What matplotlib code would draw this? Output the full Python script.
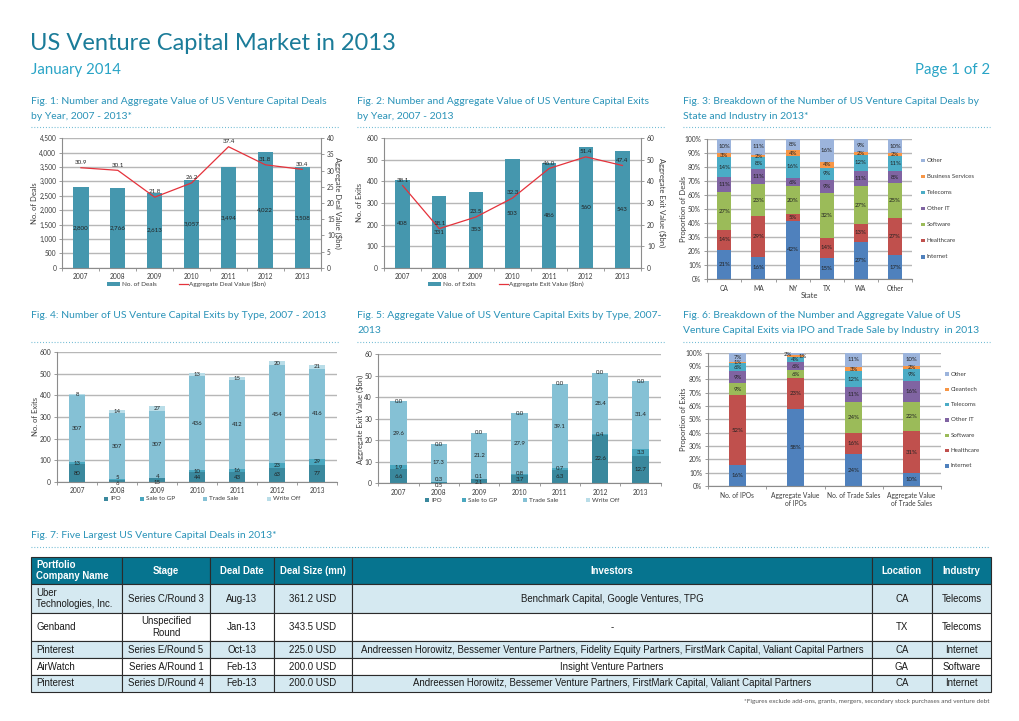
import numpy as np
import matplotlib
matplotlib.use("Agg")
import matplotlib.pyplot as plt
from matplotlib.patches import Rectangle
from matplotlib.ticker import FuncFormatter

# ---- data ---------------------------------------------------------------
years = ["2007", "2008", "2009", "2010", "2011", "2012", "2013"]

deal_count = [2800, 2766, 2613, 3057, 3494, 4022, 3508]
deal_value = [30.9, 30.1, 21.8, 26.2, 37.4, 31.8, 30.4]

exit_count = [408, 331, 353, 503, 486, 560, 543]
exit_value = [38.1, 18.1, 23.5, 32.3, 46.0, 51.4, 47.4]

industries = ["Internet", "Healthcare", "Software", "Other IT", "Telecoms",
              "Business Services", "Other"]
states = ["CA", "MA", "NY", "TX", "WA", "Other"]
state_internet = [21, 16, 42, 15, 27, 17]
state_healthcare = [14, 29, 5, 14, 13, 27]
state_software = [27, 23, 20, 32, 27, 25]
state_other_it = [11, 11, 6, 9, 11, 8]
state_telecoms = [14, 8, 16, 9, 12, 11]
state_business = [3, 2, 4, 4, 2, 2]
state_other = [10, 11, 8, 16, 9, 10]

exit_types = ["IPO", "Sale to GP", "Trade Sale", "Write Off"]
exits_ipo = [80, 6, 15, 44, 43, 63, 77]
exits_gp = [13, 5, 4, 10, 16, 23, 29]
exits_trade = [307, 307, 307, 436, 412, 454, 416]
exits_writeoff = [8, 14, 27, 13, 15, 20, 21]

value_ipo = [6.6, 0.5, 2.1, 3.7, 6.3, 22.6, 12.7]
value_gp = [1.9, 0.3, 0.1, 0.8, 0.7, 0.4, 3.3]
value_trade = [29.6, 17.3, 21.2, 27.9, 39.1, 28.4, 31.4]
value_writeoff = [0.0, 0.0, 0.0, 0.0, 0.0, 0.0, 0.0]

exit_industries = ["Internet", "Healthcare", "Software", "Other IT", "Telecoms",
                   "Cleantech", "Other"]
exit_groups = ["No. of IPOs", "Aggregate Value\nof IPOs", "No. of Trade Sales",
               "Aggregate Value\nof Trade Sales"]
grp_internet = [16, 58, 24, 10]
grp_healthcare = [52, 23, 16, 31]
grp_software = [9, 6, 24, 22]
grp_other_it = [9, 6, 11, 16]
grp_telecoms = [6, 4, 12, 9]
grp_cleantech = [1, 1, 3, 2]
grp_other = [7, 2, 11, 10]

table_header = ["Portfolio\nCompany Name", "Stage", "Deal Date", "Deal Size (mn)",
                "Investors", "Location", "Industry"]
company = ["Uber\nTechnologies, Inc.", "Genband", "Pinterest", "AirWatch", "Pinterest"]
stage = ["Series C/Round 3", "Unspecified\nRound", "Series E/Round 5",
         "Series A/Round 1", "Series D/Round 4"]
deal_date = ["Aug-13", "Jan-13", "Oct-13", "Feb-13", "Feb-13"]
deal_size = [361.2, 343.5, 225.0, 200.0, 200.0]
investors = [
    "Benchmark Capital, Google Ventures, TPG",
    "-",
    "Andreessen Horowitz, Bessemer Venture Partners, Fidelity Equity Partners, "
    "FirstMark Capital, Valiant Capital Partners",
    "Insight Venture Partners",
    "Andreessen Horowitz, Bessemer Venture Partners, FirstMark Capital, "
    "Valiant Capital Partners",
]
location = ["CA", "TX", "CA", "GA", "CA"]
industry = ["Telecoms", "Telecoms", "Internet", "Software", "Internet"]

# ---- style --------------------------------------------------------------
W, H = 1020, 721
FONT = "Lato"
TXT = "#3c3c3c"
AXIS = "#8c8c8c"
GRID = "#b7b7b7"
TITLE = "#1b7c99"
CYAN = "#29a4c6"
CAPTION = "#2a93b8"
DOTS = "#5fb3cf"
BAR = "#4597ae"
RED = "#e5323b"
IND_COLORS = ["#4f81bd", "#c0504d", "#9bbb59", "#8064a2", "#4bacc6", "#f79646", "#9cb4dc"]
EXIT_COLORS = ["#3a889d", "#4aa7bf", "#85c1d5", "#b9dde8"]

plt.rcParams["font.family"] = [FONT, "DejaVu Sans"]

fig = plt.figure(figsize=(W / 100, H / 100), dpi=100)
page = fig.add_axes([0, 0, 1, 1])
page.set_xlim(0, W)
page.set_ylim(H, 0)
page.axis("off")


def chart(l, t, r, b):
    ax = fig.add_axes([l / W, 1 - b / H, (r - l) / W, (b - t) / H])
    ax.grid(axis="y", color=GRID, lw=1.0)
    ax.set_axisbelow(True)
    for s in ("top", "right"):
        ax.spines[s].set_visible(False)
    for s in ("left", "bottom"):
        ax.spines[s].set_color(AXIS)
        ax.spines[s].set_linewidth(0.8)
    ax.tick_params(axis="y", labelsize=4.8, colors=TXT, color=AXIS, length=2.5,
                   width=0.6, pad=2)
    ax.tick_params(axis="x", which="major", labelsize=4.8, colors=TXT, length=0, pad=4)
    ax.tick_params(axis="x", which="minor", length=2.5, color=AXIS, width=0.6)
    return ax


def categories(ax, labels):
    n = len(labels)
    ax.set_xlim(-0.5, n - 0.5)
    ax.set_xticks(range(n))
    ax.set_xticklabels(labels, va="top")
    ax.set_xticks(np.arange(n + 1) - 0.5, minor=True)


def stacked(ax, series, colors, width, fmt, normalise=False, min_px=6, side=False):
    # ylim must already be set: crowded labels are spread by min_px pixels
    lo, hi = ax.get_ylim()
    gap = min_px * (hi - lo) / (ax.get_position().height * H)
    data = np.array(series, dtype=float)
    heights = data / data.sum(axis=0) * 100 if normalise else data
    x = np.arange(data.shape[1])
    bottom = np.zeros(len(x))
    prev_txt = [None] * len(x)
    prev_y = [-1e9] * len(x)
    for vals, h, col in zip(data, heights, colors):
        ax.bar(x, h, width, bottom=bottom, color=col, zorder=2)
        for j, (v, hj, b0) in enumerate(zip(vals, h, bottom)):
            y = b0 + hj / 2
            xj = x[j]
            short = gap - (y - prev_y[j])
            if short > 0:
                if side:
                    prev_txt[j].set_x(xj + 0.13)
                    xj = xj - 0.13
                else:
                    prev_txt[j].set_y(prev_y[j] - short / 2)
                    y = y + short / 2
            t = ax.text(xj, y, fmt(v), ha="center", va="center",
                        fontsize=4.3, color="#222222", zorder=3)
            prev_txt[j], prev_y[j] = t, y
        bottom += h


def right_axis(ax, top, step):
    axr = ax.twinx()
    for s in ("top", "left", "bottom"):
        axr.spines[s].set_visible(False)
    axr.spines["right"].set_color(AXIS)
    axr.spines["right"].set_linewidth(0.8)
    axr.set_ylim(0, top)
    axr.set_yticks(np.arange(0, top + 1, step))
    axr.tick_params(axis="y", labelsize=4.8, colors=TXT, color=AXIS, length=2.5,
                    width=0.6, pad=2)
    return axr


def caption(x, y, lines):
    for i, line in enumerate(lines):
        page.text(x, y + i * 15.5, line, fontsize=7.5, color=CAPTION, va="center")


def dotted(x0, x1, y):
    page.plot([x0, x1], [y, y], color=DOTS, lw=0.8, ls=(0, (0.8, 1.8)))


def ylab(x, y, text, rot=90):
    page.text(x, y, text, rotation=rot, ha="center", va="center", fontsize=5.5, color=TXT)


def legend_col(labels, colors, x, y0, dy):
    for i, (lab, col) in enumerate(zip(labels, colors)):
        y = y0 + i * dy
        page.add_patch(Rectangle((x, y - 1.8), 3.6, 3.6, color=col, lw=0))
        page.text(x + 6, y, lab, fontsize=4.4, color=TXT, va="center")


def legend_row(labels, colors, xs, y):
    for lab, col, x in zip(labels, colors, xs):
        page.add_patch(Rectangle((x, y - 1.8), 3.6, 3.6, color=col, lw=0))
        page.text(x + 6, y, lab, fontsize=4.6, color=TXT, va="center")


def bar_line_legend(bar_label, line_label, xb, xl, y):
    page.add_patch(Rectangle((xb, y - 2), 13, 4, color=BAR, lw=0))
    page.text(xb + 15, y, bar_label, fontsize=4.6, color=TXT, va="center")
    page.plot([xl, xl + 9], [y, y], color=RED, lw=0.9)
    page.text(xl + 10, y, line_label, fontsize=4.6, color=TXT, va="center")


# ---- header ---------------------------------------------------------------
page.text(30, 44, "US Venture Capital Market in 2013", fontsize=17, color=TITLE,
          va="center")
page.text(31, 70, "January 2014", fontsize=10.8, color=CYAN, va="center")
page.text(990, 70, "Page 1 of 2", fontsize=10.8, color=CYAN, va="center", ha="right")

caption(31, 101, ["Fig. 1: Number and Aggregate Value of US Venture Capital Deals",
                  "by Year, 2007 - 2013*"])
caption(357, 101, ["Fig. 2: Number and Aggregate Value of US Venture Capital Exits",
                   "by Year, 2007 - 2013"])
caption(683, 101, ["Fig. 3: Breakdown of the Number of US Venture Capital Deals by",
                   "State and Industry in 2013*"])
dotted(31, 339, 127)
dotted(357, 665, 127)
dotted(683, 990, 127)

caption(31, 315, ["Fig. 4: Number of US Venture Capital Exits by Type, 2007 - 2013"])
caption(357, 315, ["Fig. 5: Aggregate Value of US Venture Capital Exits by Type, 2007-",
                   "2013"])
caption(683, 315, ["Fig. 6: Breakdown of the Number and Aggregate Value of US",
                   "Venture Capital Exits via IPO and Trade Sale by Industry  in 2013"])
dotted(31, 339, 342)
dotted(357, 665, 342)
dotted(683, 990, 342)

# ---- Fig. 1 ---------------------------------------------------------------
x = np.arange(len(years))
ax1 = chart(62.5, 138.3, 320.7, 267.7)
categories(ax1, years)
ax1.bar(x, deal_count, 0.41, color=BAR, zorder=2)
for xi, v in zip(x, deal_count):
    ax1.text(xi, v / 2, f"{v:,}", ha="center", va="center", fontsize=4.5, color="#222222")
ax1.set_ylim(0, 4500)
ax1.set_yticks(np.arange(0, 4501, 500))
ax1.yaxis.set_major_formatter(FuncFormatter(lambda v, p: f"{v:,.0f}"))
ax1r = right_axis(ax1, 40, 5)
ax1r.plot(x, deal_value, color=RED, lw=0.9)
for xi, v in zip(x, deal_value):
    ax1r.annotate(f"{v:.1f}", (xi, v), xytext=(0, 2), textcoords="offset points",
                  ha="center", va="bottom", fontsize=4.5, color="#222222")
ylab(35, 203, "No. of Deals")
ylab(338, 203, "Aggregate Deal Value ($bn)", rot=270)
bar_line_legend("No. of Deals", "Aggregate Deal Value ($bn)", 107, 179, 284)

# ---- Fig. 2 ---------------------------------------------------------------
ax2 = chart(384.3, 138.3, 640.7, 267.7)
categories(ax2, years)
ax2.bar(x, exit_count, 0.39, color=BAR, zorder=2)
for xi, v in zip(x, exit_count):
    ax2.text(xi, v / 2, f"{v:,}", ha="center", va="center", fontsize=4.5, color="#222222")
ax2.set_ylim(0, 600)
ax2.set_yticks(np.arange(0, 601, 100))
ax2r = right_axis(ax2, 60, 10)
ax2r.plot(x, exit_value, color=RED, lw=0.9)
for xi, v in zip(x, exit_value):
    ax2r.annotate(f"{v:.1f}", (xi, v), xytext=(0, 2), textcoords="offset points",
                  ha="center", va="bottom", fontsize=4.5, color="#222222")
ylab(360, 203, "No. of Exits")
ylab(662, 203, "Aggregate Exit Value ($bn)", rot=270)
bar_line_legend("No. of Exits", "Aggregate Exit Value ($bn)", 428, 499, 284)

# ---- Fig. 3 ---------------------------------------------------------------
pct = FuncFormatter(lambda v, p: f"{v:.0f}%")
ax3 = chart(707.3, 139.3, 912, 279)
categories(ax3, states)
ax3.set_ylim(0, 100)
ax3.set_yticks(np.arange(0, 101, 10))
ax3.yaxis.set_major_formatter(pct)
stacked(ax3, [state_internet, state_healthcare, state_software, state_other_it,
              state_telecoms, state_business, state_other],
        IND_COLORS, 0.41, lambda v: f"{v:.0f}%", normalise=True, min_px=2.5, side=True)
ylab(684, 209, "Proportion of Deals")
page.text(809.6, 295, "State", ha="center", va="center", fontsize=5.5, color=TXT)
legend_col(industries[::-1], IND_COLORS[::-1], 921, 160.7, 16)

# ---- Fig. 4 ---------------------------------------------------------------
ax4 = chart(57.3, 352.3, 337, 481.7)
categories(ax4, years)
ax4.set_ylim(0, 600)
ax4.set_yticks(np.arange(0, 601, 100))
stacked(ax4, [exits_ipo, exits_gp, exits_trade, exits_writeoff], EXIT_COLORS, 0.4,
        lambda v: f"{v:.0f}")
ylab(36, 417, "No. of Exits")
legend_row(exit_types, EXIT_COLORS, [104, 140, 203, 267], 499)

# ---- Fig. 5 ---------------------------------------------------------------
ax5 = chart(378.3, 354, 660.7, 483.3)
categories(ax5, years)
ax5.set_ylim(0, 60)
ax5.set_yticks(np.arange(0, 61, 10))
stacked(ax5, [value_ipo, value_gp, value_trade, value_writeoff], EXIT_COLORS, 0.4,
        lambda v: f"{v:.1f}")
ylab(360, 419, "Aggregate Exit Value ($bn)")
legend_row(exit_types, EXIT_COLORS, [425, 462, 523, 586], 500)

# ---- Fig. 6 ---------------------------------------------------------------
ax6 = chart(708.3, 352.7, 940.7, 486)
categories(ax6, exit_groups)
ax6.set_ylim(0, 100)
ax6.set_yticks(np.arange(0, 101, 10))
ax6.yaxis.set_major_formatter(pct)
stacked(ax6, [grp_internet, grp_healthcare, grp_software, grp_other_it, grp_telecoms,
              grp_cleantech, grp_other],
        IND_COLORS, 0.3, lambda v: f"{v:.0f}%", normalise=True, min_px=2.5, side=True)
ylab(684, 419, "Proportion of Exits")
legend_col(exit_industries[::-1], IND_COLORS[::-1], 945, 374, 15.33)

# ---- Fig. 7 table ---------------------------------------------------------
caption(31, 535, ["Fig. 7: Five Largest US Venture Capital Deals in 2013*"])
dotted(31, 990, 547)

col_edges = [31.5, 122.3, 209.7, 273.7, 352.3, 871.7, 931.7, 991]
row_edges = [556.7, 584.3, 613, 641, 658.3, 675, 691.7]
rows = [table_header] + [
    [c, s, d, f"{v:.1f} USD", i, loc, ind]
    for c, s, d, v, i, loc, ind in zip(company, stage, deal_date, deal_size,
                                       investors, location, industry)
]
for r, cells in enumerate(rows):
    y0, y1 = row_edges[r], row_edges[r + 1]
    if r == 0:
        fill = "#06748f"
    elif r % 2 == 1:
        fill = "#d5e9f1"
    else:
        fill = "white"
    for c, txt in enumerate(cells):
        x0, x1 = col_edges[c], col_edges[c + 1]
        page.add_patch(Rectangle((x0, y0), x1 - x0, y1 - y0, facecolor=fill,
                                 edgecolor="#2b2b2b", lw=0.8))
        left = c == 0
        page.text(x0 + 5 if left else (x0 + x1) / 2, (y0 + y1) / 2, txt,
                  ha="left" if left else "center", va="center",
                  fontsize=6.9, family="Liberation Sans", linespacing=1.15,
                  color="white" if r == 0 else "#1a1a1a",
                  weight="bold" if r == 0 else "normal")

page.text(990, 701, "*Figures exclude add-ons, grants, mergers, secondary stock purchases "
          "and venture debt", ha="right", va="center", fontsize=4.6, color="#555555")

fig.savefig("out.png", dpi=100)
